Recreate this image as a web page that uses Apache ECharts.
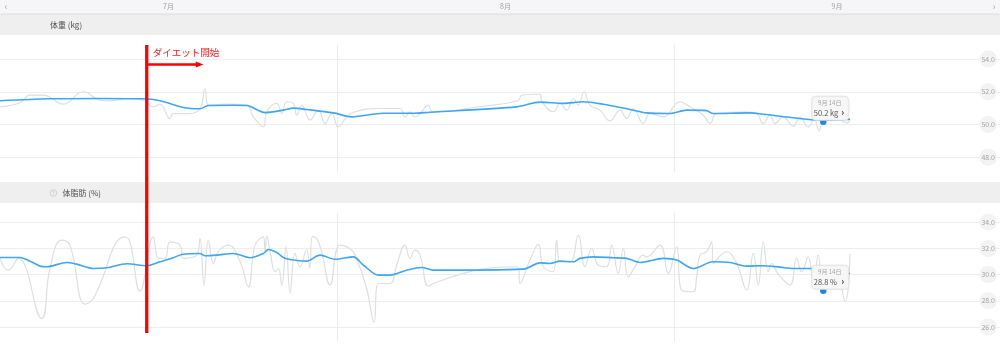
<!DOCTYPE html>
<html><head><meta charset="utf-8">
<style>html,body{margin:0;padding:0;background:#fff}#c{width:1000px;height:350px}</style>
<script src="https://cdn.jsdelivr.net/npm/echarts@6.0.0/dist/echarts.min.js"></script>
</head><body><div id="c"></div>
<script>
// ---- data (x = days since 7/1) ----
const monthLabels = ['7月', '8月', '9月'];
const monthMidDays = [15.5, 46.5, 77];
const weightTicks = [48, 50, 52, 54];
const fatTicks = [26, 28, 30, 32, 34];

const weightRawDays = [0,1.84,2.76,3.99,5.83,7.67,9.2,10.12,11.96,13.19,14.11,14.72,15.64,15.95,17.48,18.4,18.87,19.17,20.86,22.7,23.31,24.23,24.54,25.46,25.92,26.38,26.99,27.3,27.76,28.53,29.29,29.91,30.52,31.13,31.9,32.5,34.7,36.8,37.26,37.72,38.18,38.64,39.4,39.83,44.2,47.65,48.02,49.68,49.86,50.9,51.52,52.13,52.74,53.2,53.73,54.28,55.2,56.12,57.04,57.65,58.27,59.18,59.8,61.02,62.56,63.48,64.7,65.32,65.93,68.69,69.61,70.22,70.84,71.3,72.06,72.98,73.6,74.36,74.9,75.35,75.74,76.8,77.9,78.2];
const weightRawVals = [51.08,51.33,51.8,51.8,51.24,52.0,51.49,51.45,51.59,51.49,51.08,51.24,50.37,50.67,50.67,50.98,52.2,51.18,51.24,51.18,50.47,49.86,50.78,51.29,50.67,51.39,51.29,50.57,51.18,50.27,50.88,50.06,50.67,49.86,50.47,50.75,50.98,50.98,50.46,50.77,50.46,50.67,51.18,50.77,51.1,51.45,51.8,51.85,51.4,50.78,51.29,50.88,51.59,51.18,52.0,51.18,50.88,50.22,50.88,50.37,50.98,50.06,50.67,50.47,51.39,51.08,50.57,50.06,50.67,50.78,50.67,50.06,50.57,50.06,50.47,49.9,50.45,49.85,50.4,49.62,50.2,50.55,50.1,50.3];

const weightAvgDays = [0,4.6,9.2,13.19,14.72,16.87,18.4,19.17,21.47,22.7,24.39,26.07,26.99,28.22,30.67,32.36,35.28,38.04,39.57,47.53,49.68,51.82,53.66,55.5,57.96,59.49,61.64,63.17,65.0,65.6,69.0,70.22,75.74,78.2];
const weightAvgVals = [51.45,51.57,51.59,51.57,51.45,51.04,50.96,51.16,51.18,51.16,50.73,50.88,51.0,50.92,50.71,50.47,50.69,50.69,50.75,51.08,51.37,51.29,51.39,51.24,50.92,50.71,50.67,50.88,50.85,50.67,50.71,50.63,50.27,50.33];

const fatRawDays = [0,0.77,1.69,3.83,4.6,5.67,6.44,7.82,8.59,11.5,11.96,12.88,14.11,14.57,15.18,15.64,16.56,16.87,18.1,18.4,18.77,19.17,19.63,20.09,21.01,22.09,22.85,23.47,24.23,24.39,24.54,24.85,25.31,25.61,25.92,26.32,26.69,27.14,27.6,28.2,28.5,28.75,29.13,29.59,30.36,31.28,32.35,32.81,33.73,34.41,34.81,35.88,36.49,37.26,37.72,38.18,38.64,39.4,39.87,42.63,45.08,47.69,47.84,48.76,49.53,49.99,50.9,51.21,51.52,52.44,53.2,53.82,54.43,55.04,55.81,56.27,56.88,57.34,57.8,58.42,59.18,59.49,60.72,61.48,62.25,62.71,63.78,64.09,64.4,65.01,65.47,65.62,66.85,67.77,68.69,69.3,69.76,70.22,70.68,70.99,71.45,71.7,72.68,73.29,73.75,74.36,74.82,75.28,75.74,76.9,77.74,78.2];
const fatRawVals = [31.24,30.34,31.24,26.65,30.5,32.64,32.25,27.75,28.18,32.89,32.51,28.74,32.89,31.24,31.24,32.51,32.25,31.24,31.49,32.76,29.2,32.64,30.85,31.75,32.25,30.98,29.07,32.25,32.89,31.75,32.97,31.75,30.22,30.47,29.2,32.13,28.6,31.62,30.6,31.9,30.5,32.9,32.76,31.75,29.2,32.25,31.87,31.24,28.94,26.34,29.32,29.32,30.73,32.25,31.24,31.87,31.49,29.12,29.32,30.09,30.52,30.6,29.32,31.11,32.31,30.6,30.22,32.64,30.98,30.98,33.0,30.6,32.0,30.73,30.6,32.25,30.09,32.0,29.83,30.6,31.49,31.36,32.25,30.09,32.13,28.82,28.69,29.83,31.49,31.75,32.51,30.85,31.75,30.85,28.82,31.62,29.2,32.51,30.22,30.85,30.22,29.9,29.2,31.24,30.22,31.36,29.45,31.49,28.8,30.2,27.95,31.62];

const fatAvgDays = [0,1.84,2.76,3.68,4.29,6.13,7.06,8.59,9.82,11.66,13.5,14.72,15.95,16.72,18.4,18.87,19.94,21.47,23.0,24.23,24.69,25.46,26.07,26.69,28.21,29.44,30.82,32.5,33.43,34.81,35.88,37.41,38.79,39.87,48.14,49.68,50.6,51.52,52.74,53.36,54.58,56.42,57.65,58.88,61.02,62.25,63.78,65.62,67.16,68.69,70.22,71.76,72.98,74.52,75.74,78.2];
const fatAvgVals = [31.31,31.31,31.03,30.65,30.6,30.93,30.8,30.47,30.52,30.83,30.68,30.98,31.29,31.54,31.62,31.44,31.49,31.62,31.29,31.62,31.92,31.69,31.31,31.15,31.03,31.49,31.18,31.36,30.73,29.96,29.96,30.34,30.55,30.34,30.42,30.9,30.85,31.03,30.98,31.24,31.36,31.29,31.24,30.93,31.24,31.11,30.47,30.98,30.93,30.65,30.68,30.57,30.47,30.47,30.3,30.09];

const dietStartDay = 13.5;
const dietLabel = 'ダイエット開始';
const markDay = 75.74;
const markDateLabel = '9月 14日';
const markWeight = 50.2;
const markFat = 28.8;

// ---- chart ----
const FONT = '"Noto Sans CJK JP", "Noto Sans", sans-serif';
const zip = (a, b) => a.map((d, i) => [d, b[i]]);
const chart = echarts.init(document.getElementById('c'), null, {renderer: 'canvas'});

const xAx = i => ({
  gridIndex: i, type: 'value', min: 0, max: 92, interval: 31,
  axisLine: {show: false}, axisTick: {show: false}, axisLabel: {show: false},
  splitLine: {show: true, showMinLine: false, showMaxLine: false, lineStyle: {color: '#ececec', width: 1}}
});
const yAx = (i, mn, mx, ticks) => ({
  gridIndex: i, type: 'value', position: 'right', min: mn, max: mx,
  axisLine: {show: false},
  axisTick: {show: false, customValues: ticks},
  axisLabel: {inside: true, customValues: ticks, margin: 3, formatter: v => Number(v).toFixed(1),
    color: '#a3a3a3', fontSize: 7, fontFamily: FONT, backgroundColor: '#f3f3f3',
    borderRadius: 9, padding: [5, 2]},
  splitLine: {show: true, lineStyle: {color: '#eeeeee', width: 1}}
});
const lineS = (i, data, color, w, z, sm) => ({
  type: 'line', xAxisIndex: i, yAxisIndex: i, data, showSymbol: false, smooth: sm,
  lineStyle: {color, width: w}, z, silent: true
});

chart.setOption({
  animation: false,
  grid: [
    {left: 0, right: 0, top: 45, height: 127},
    {left: 0, right: 0, top: 213, height: 129}
  ],
  xAxis: [xAx(0), xAx(1)],
  yAxis: [yAx(0, 47.103, 54.855, weightTicks), yAx(1, 24.85, 34.71, fatTicks)],
  series: [
    lineS(0, zip(weightRawDays, weightRawVals), '#dcdfe3', 1.2, 2, 0.45),
    lineS(0, zip(weightAvgDays, weightAvgVals), '#3ea6f2', 1.6, 3, 0.3),
    lineS(1, zip(fatRawDays, fatRawVals), '#dcdfe3', 1.2, 2, 0.45),
    lineS(1, zip(fatAvgDays, fatAvgVals), '#3ea6f2', 1.6, 3, 0.3)
  ]
});

// ---- decorations computed from axes ----
const g = [];
// top bar & section headers
g.push({type: 'rect', shape: {x: 0, y: 0, width: 1000, height: 13}, style: {fill: '#f6f6f8', shadowBlur: 2, shadowColor: 'rgba(0,0,0,0.12)', shadowOffsetY: 1}, z: 10});
g.push({type: 'rect', shape: {x: 0, y: 14, width: 1000, height: 21}, style: {fill: '#efefef'}, z: 9});
g.push({type: 'rect', shape: {x: 0, y: 182, width: 1000, height: 21}, style: {fill: '#efefef'}, z: 9});
monthLabels.forEach((m, i) => {
  const x = chart.convertToPixel({xAxisIndex: 0}, monthMidDays[i]);
  g.push({type: 'text', x, y: 6, style: {text: m, fill: '#a0a0a0', fontSize: 7, fontFamily: FONT, align: 'center', verticalAlign: 'middle'}, z: 11});
});
g.push({type: 'text', x: 6, y: 6, style: {text: '‹', fill: '#b0b0b0', fontSize: 10, fontFamily: FONT, align: 'center', verticalAlign: 'middle'}, z: 11});
g.push({type: 'text', x: 994, y: 6, style: {text: '›', fill: '#b0b0b0', fontSize: 10, fontFamily: FONT, align: 'center', verticalAlign: 'middle'}, z: 11});
g.push({type: 'text', x: 50, y: 24.5, style: {text: '体重 (kg)', fill: '#505050', fontSize: 8, fontFamily: FONT, verticalAlign: 'middle'}, z: 11});
g.push({type: 'circle', shape: {cx: 53.5, cy: 193, r: 3.3}, style: {fill: 'none', stroke: '#c8c8c8', lineWidth: 0.8}, z: 11});
g.push({type: 'text', x: 53.5, y: 193.2, style: {text: '?', fill: '#bbbbbb', fontSize: 5, fontFamily: FONT, align: 'center', verticalAlign: 'middle'}, z: 11});
g.push({type: 'text', x: 62.5, y: 193, style: {text: '体脂肪 (%)', fill: '#505050', fontSize: 8, fontFamily: FONT, verticalAlign: 'middle'}, z: 11});

// tooltip boxes
function tip(gi, val, unit) {
  const [px, py] = chart.convertToPixel({gridIndex: gi}, [markDay, val]);
  const bx = px - 11.5, by = py - 25;
  g.push({type: 'circle', shape: {cx: px, cy: py + 0.5, r: 3.2}, style: {fill: '#1e88e5'}, z: 20});
  g.push({type: 'rect', shape: {x: bx, y: by, width: 37, height: 24, r: 4}, style: {fill: '#f7f7f7', stroke: '#e2e2e2', lineWidth: 0.8, shadowBlur: 2, shadowColor: 'rgba(0,0,0,0.06)'}, z: 21});
  g.push({type: 'text', x: bx + 18, y: by + 6.5, style: {text: markDateLabel, fill: '#a5a5a5', fontSize: 6, fontFamily: FONT, align: 'center', verticalAlign: 'middle'}, z: 22});
  g.push({type: 'text', x: bx + 2, y: by + 17, style: {text: val.toFixed(1) + ' ' + unit, fill: '#555555', fontSize: 7.5, fontFamily: FONT, verticalAlign: 'middle'}, z: 22});
  g.push({type: 'text', x: bx + 31, y: by + 16.5, style: {text: '›', fill: '#333333', fontSize: 9, fontWeight: 'bold', fontFamily: FONT, align: 'center', verticalAlign: 'middle'}, z: 22});
}
tip(0, markWeight, 'kg');
tip(1, markFat, '%');

// red annotation
const rx = chart.convertToPixel({xAxisIndex: 0}, dietStartDay);
g.push({type: 'line', shape: {x1: rx, y1: 45, x2: rx, y2: 333}, style: {stroke: '#ff0000', lineWidth: 3.3}, z: 30});
g.push({type: 'line', shape: {x1: rx, y1: 64.5, x2: rx + 50, y2: 64.5}, style: {stroke: '#ff0000', lineWidth: 2.4}, z: 30});
g.push({type: 'polygon', shape: {points: [[rx + 49, 61.6], [rx + 56.5, 64.5], [rx + 49, 67.4]]}, style: {fill: '#ff0000'}, z: 30});
g.push({type: 'text', x: rx + 6, y: 52.5, style: {text: dietLabel, fill: '#ff1a1a', fontSize: 9.5, fontFamily: FONT, verticalAlign: 'middle'}, z: 30});

chart.setOption({graphic: g});
</script></body></html>
